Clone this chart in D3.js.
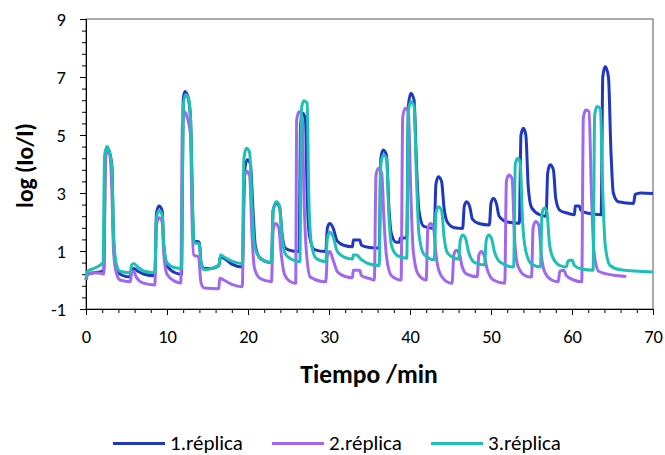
<!DOCTYPE html>
<html><head><meta charset="utf-8">
<script src="https://cdn.jsdelivr.net/npm/d3@7/dist/d3.min.js"></script>
<style>
body{margin:0;background:#fff;}
svg{display:block;font-family:Carlito,Calibri,Lato,sans-serif;}
</style></head>
<body><svg id="c" width="665" height="455"></svg>
<script>
const seriesNames = ["1.réplica","2.réplica","3.réplica"];
const seriesColors = ["#1F38C2","#A068EF","#1EBFB5"];
const xTicks = [0,10,20,30,40,50,60,70];
const yTicks = [-1,1,3,5,7,9];

const rep1 = [[0,0.0],[0.2,0.2],[1.0,0.25],[2.0,0.3],[2.2,0.35],
[2.4,4.3],[2.7,4.5],[3.0,4.3],[3.2,3.9],[3.4,1.5],[3.7,0.5],[4.2,0.2],[5.5,0.1],
[5.6,0.35],[5.9,0.4],[6.4,0.3],[7.2,0.2],[8.5,0.15],
[8.7,2.3],[9.0,2.55],[9.4,2.4],[9.6,1.2],[10.0,0.5],[11.0,0.25],[11.8,0.2],
[12.0,6.2],[12.2,6.5],[12.6,6.3],[12.9,5.6],[13.2,2.0],[13.3,1.35],[14.0,1.3],[14.2,0.6],[14.6,0.4],[15.5,0.4],[16.4,0.5],
[16.6,0.8],[17.0,0.75],[18.0,0.55],[19.3,0.45],
[19.6,3.8],[19.9,4.15],[20.3,4.0],[20.6,2.5],[20.9,1.2],[21.5,0.75],[22.9,0.6],
[23.1,2.4],[23.5,2.65],[23.9,2.5],[24.2,1.6],[24.6,1.1],[25.5,1.0],[26.3,0.98],
[26.5,5.4],[26.8,5.75],[27.1,5.5],[27.3,3.0],[27.6,1.5],[28.2,1.05],[29.6,0.98],
[29.8,1.8],[30.1,1.95],[30.5,1.8],[31.0,1.35],[31.8,1.2],[32.9,1.15],
[33.0,1.38],[33.8,1.38],[34.0,1.2],[35.0,1.12],[36.2,1.1],
[36.4,4.2],[36.7,4.48],[37.1,4.3],[37.4,2.5],[37.7,1.6],[38.3,1.3],[38.7,1.3],[38.8,1.45],[39.6,1.45],
[39.8,6.0],[40.1,6.44],[40.5,6.2],[40.8,4.0],[41.1,2.4],[41.7,1.85],[43.0,1.78],
[43.2,3.3],[43.5,3.56],[43.9,3.4],[44.2,2.5],[44.6,2.0],[45.5,1.8],[46.5,1.78],
[46.7,2.55],[47.0,2.7],[47.4,2.5],[47.7,2.1],[48.5,1.95],[49.8,1.9],
[50.0,2.65],[50.3,2.82],[50.7,2.6],[51.0,2.2],[52.0,2.0],[53.5,1.96],
[53.7,5.0],[54.0,5.23],[54.3,5.0],[54.6,3.2],[55.0,2.5],[56.0,2.25],[56.8,2.2],
[57.0,3.7],[57.3,3.97],[57.7,3.8],[58.0,2.8],[58.5,2.4],[59.5,2.3],[60.3,2.25],
[60.4,2.55],[60.9,2.55],[61.1,2.4],[62.0,2.3],[63.6,2.25],
[63.8,7.0],[64.1,7.36],[64.5,7.0],[64.8,4.5],[65.1,3.0],[65.7,2.7],[67.6,2.64],
[67.8,2.95],[68.5,3.0],[70,2.98]];

const rep2 = [[0,0.0],[0.2,0.2],[1.0,0.25],[2.0,0.22],[2.2,0.2],
[2.4,4.2],[2.7,4.5],[3.0,4.2],[3.2,3.0],[3.4,1.0],[3.7,0.3],[4.2,0.0],[5.5,-0.06],
[5.6,0.25],[5.9,0.29],[6.2,0.1],[7.0,-0.1],[8.5,-0.17],
[8.7,1.9],[9.0,2.15],[9.4,2.0],[9.6,0.9],[10.0,0.2],[11.0,-0.05],[11.7,-0.1],
[11.9,5.4],[12.2,5.8],[12.5,5.6],[12.9,5.0],[13.1,2.0],[13.3,0.86],[13.9,0.8],[14.2,-0.1],[14.6,-0.28],[16.4,-0.3],
[16.5,0.06],[17.0,0.0],[18.0,-0.15],[19.3,-0.23],
[19.5,3.4],[19.8,3.75],[20.2,3.6],[20.5,1.5],[20.8,0.4],[21.5,0.05],[22.9,-0.06],
[23.1,1.7],[23.4,1.95],[23.8,1.8],[24.1,0.9],[24.5,0.2],[25.2,-0.05],[25.9,-0.11],
[26.0,5.5],[26.3,5.8],[26.7,5.6],[26.9,3.0],[27.2,1.0],[27.7,0.1],[29.6,-0.06],
[29.8,0.85],[30.1,0.98],[30.5,0.7],[31.0,0.3],[32.0,0.12],[32.9,0.08],
[33.0,0.34],[33.8,0.34],[34.0,0.15],[35.0,0.05],[35.6,0.0],
[35.8,3.6],[36.1,3.85],[36.5,3.7],[36.8,2.0],[37.1,0.8],[37.7,0.15],[38.9,0.0],
[39.1,5.6],[39.4,5.92],[39.8,5.8],[40.1,3.0],[40.4,1.0],[41.0,0.2],[42.0,0.0],
[42.2,1.75],[42.5,1.95],[42.9,1.8],[43.2,0.9],[43.6,0.3],[44.5,-0.05],[45.2,-0.11],
[45.4,0.85],[45.7,1.03],[46.1,0.9],[46.4,0.5],[47.0,0.2],[48.3,0.11],
[48.5,0.85],[48.8,0.98],[49.2,0.8],[49.5,0.4],[50.3,0.0],[51.7,-0.11],
[51.9,3.4],[52.2,3.62],[52.6,3.5],[52.9,1.5],[53.3,0.5],[54.2,0.15],[55.0,0.1],
[55.2,1.8],[55.5,2.02],[55.9,1.9],[56.2,0.9],[56.6,0.3],[57.5,0.0],[58.3,-0.06],
[58.5,0.3],[59.0,0.34],[59.3,0.15],[60.2,0.0],[61.2,-0.06],
[61.4,5.6],[61.7,5.86],[62.1,5.8],[62.4,3.0],[62.7,1.0],[63.3,0.3],[65.0,0.17],[66.7,0.12]];

const rep3 = [[0,0.1],[0.2,0.3],[1.0,0.4],[1.9,0.55],[2.1,0.6],
[2.3,4.3],[2.6,4.6],[2.9,4.4],[3.2,3.8],[3.4,1.5],[3.7,0.6],[4.2,0.3],[5.5,0.25],
[5.6,0.5],[5.9,0.57],[6.4,0.45],[7.2,0.3],[8.5,0.25],
[8.7,2.15],[9.0,2.4],[9.4,2.25],[9.6,1.2],[10.0,0.6],[11.0,0.42],[11.8,0.4],
[12.0,6.0],[12.3,6.4],[12.7,6.2],[12.9,5.6],[13.2,2.0],[13.3,1.28],[14.0,1.25],[14.2,0.6],[14.6,0.35],[15.5,0.4],[16.4,0.52],
[16.6,0.86],[17.0,0.8],[18.0,0.65],[19.3,0.57],
[19.5,4.2],[19.8,4.54],[20.2,4.4],[20.5,2.5],[20.8,1.2],[21.5,0.75],[22.9,0.6],
[23.1,2.4],[23.5,2.7],[23.9,2.55],[24.2,1.5],[24.6,0.9],[25.5,0.7],[26.4,0.63],
[26.6,5.9],[26.9,6.18],[27.3,6.1],[27.5,3.0],[27.8,1.3],[28.4,0.75],[29.6,0.63],
[29.8,1.45],[30.1,1.65],[30.5,1.5],[31.0,1.0],[31.8,0.8],[32.9,0.72],
[33.0,0.86],[33.4,0.86],[34.0,0.7],[35.0,0.55],[36.2,0.5],
[36.4,4.0],[36.7,4.31],[37.1,4.2],[37.4,2.2],[37.7,1.2],[38.4,0.85],[39.6,0.75],
[39.8,5.8],[40.1,6.15],[40.5,6.0],[40.8,3.5],[41.1,1.6],[41.7,0.9],[43.0,0.7],
[43.2,2.3],[43.5,2.53],[43.9,2.4],[44.2,1.5],[44.6,0.95],[45.5,0.75],[46.0,0.72],
[46.2,1.35],[46.5,1.55],[46.9,1.4],[47.2,1.0],[48.0,0.6],[49.2,0.52],
[49.4,1.35],[49.7,1.55],[50.1,1.4],[50.4,1.0],[51.2,0.6],[52.8,0.45],
[53.0,4.0],[53.3,4.2],[53.6,4.05],[53.9,2.0],[54.3,1.0],[55.0,0.55],[56.1,0.45],
[56.3,2.3],[56.6,2.48],[56.9,2.35],[57.2,1.3],[57.6,0.8],[58.5,0.5],[59.3,0.45],
[59.5,0.65],[60.0,0.69],[60.3,0.5],[61.2,0.38],[62.6,0.34],
[62.8,5.7],[63.1,5.98],[63.5,5.9],[63.8,3.0],[64.1,1.2],[64.7,0.5],[66.0,0.35],[70,0.28]];

const allSeries = [rep1, rep2, rep3];

const svg = d3.select("#c");
const L = 86, R = 653, T = 19, B = 309;
const x = d3.scaleLinear().domain([0,70]).range([L,R]);
const y = d3.scaleLinear().domain([-1,9]).range([B,T]);

// frame
svg.append("rect").attr("x",L).attr("y",T).attr("width",R-L).attr("height",B-T)
  .attr("fill","none").attr("stroke","#595959").attr("stroke-width",1);

// minor ticks
const yMinor = d3.range(-1, 9.001, 0.4).map(v=>+v.toFixed(2));
const xMinor = d3.range(0, 70.001, 2);
svg.append("g").attr("transform",`translate(${L},0)`)
  .call(d3.axisLeft(y).tickValues(yMinor).tickSize(4).tickFormat(""))
  .call(g=>g.select(".domain").remove());
svg.append("g").attr("transform",`translate(0,${B})`)
  .call(d3.axisBottom(x).tickValues(xMinor).tickSize(4).tickFormat(""))
  .call(g=>g.select(".domain").remove());

const fmt = d => String(d);
const yAx = svg.append("g").attr("transform",`translate(${L},0)`)
  .call(d3.axisLeft(y).tickValues(yTicks).tickSize(6).tickPadding(14).tickFormat(fmt));
const xAx = svg.append("g").attr("transform",`translate(0,${B})`)
  .call(d3.axisBottom(x).tickValues(xTicks).tickSize(6).tickPadding(8).tickFormat(fmt));
[yAx,xAx].forEach(g=>{
  g.selectAll("text").attr("font-size",18.5).attr("fill","#000").attr("font-family","Carlito,Calibri,Lato,sans-serif");
});
yAx.selectAll("text").attr("dy","0.36em");
xAx.selectAll("text").attr("y",34).attr("dy",0);
svg.selectAll("g line, g path.domain").attr("stroke","#000");

// lines
const line = d3.line().x(d=>x(d[0])).y(d=>y(d[1])).curve(d3.curveMonotoneX);
allSeries.forEach((s,i)=>{
  svg.append("path").datum(s).attr("d",line).attr("fill","none")
    .attr("stroke",seriesColors[i]).attr("stroke-width",3).attr("stroke-linejoin","round");
});

// axis titles
svg.append("text").attr("x",369).attr("y",383).attr("text-anchor","middle")
  .attr("font-size",25.5).attr("font-weight","bold").text("Tiempo /min");
svg.append("text").attr("transform",`translate(33,165.5) rotate(-90)`).attr("text-anchor","middle")
  .attr("font-size",23.5).attr("font-weight","bold").text("log (Io/I)");

// legend
const legX = [113, 272, 431];
seriesNames.forEach((n,i)=>{
  svg.append("line").attr("x1",legX[i]).attr("x2",legX[i]+52).attr("y1",443.5).attr("y2",443.5)
    .attr("stroke",seriesColors[i]).attr("stroke-width",3);
  svg.append("text").attr("x",legX[i]+57).attr("y",449.5).attr("font-size",21).text(n);
});
</script></body></html>
